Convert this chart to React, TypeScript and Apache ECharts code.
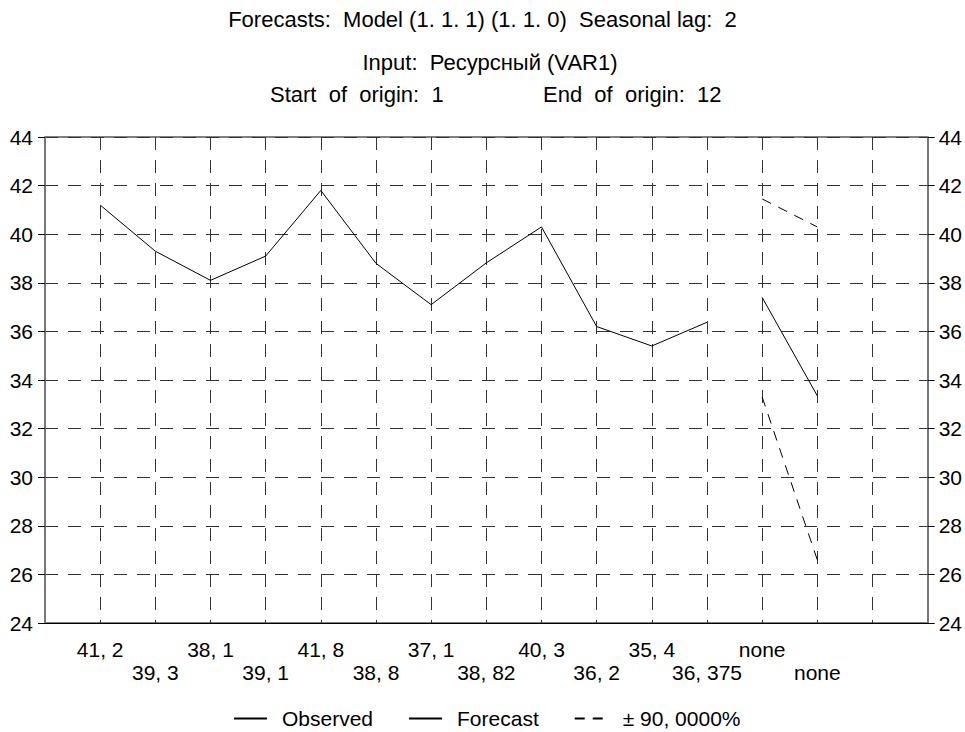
import React, { useEffect, useRef } from "react";
import * as echarts from "echarts";

// Observed values (steps 1..12)
const observed = [41.2, 39.3, 38.1, 39.1, 41.8, 38.8, 37.1, 38.82, 40.3, 36.2, 35.4, 36.375];
// Forecast (steps 13..14)
const forecastStart = 13;
const forecast = [37.4, 33.35];
const upperBound = [41.45, 40.3];
const lowerBound = [33.3, 26.6];
// X tick labels at steps 1..14
const tickLabels = [
  "41, 2", "39, 3", "38, 1", "39, 1", "41, 8", "38, 8", "37, 1",
  "38, 82", "40, 3", "36, 2", "35, 4", "36, 375", "none", "none",
];
const yMin = 24;
const yMax = 44;
const yStep = 2;
const xMin = 0;
const xMax = 16;

const titleLine1 = "Forecasts:  Model (1. 1. 1) (1. 1. 0)  Seasonal lag:  2";
const titleLine2 = "Input:  Ресурсный (VAR1)";
const titleLine3a = "Start  of  origin:  1";
const titleLine3b = "End  of  origin:  12";
const legendNames = ["Observed", "Forecast", "± 90, 0000%"];

const FONT = "'Liberation Sans', Arial, sans-serif";

export default function App() {
  const ref = useRef<HTMLDivElement>(null);
  useEffect(() => {
    if (!ref.current) return;
    const chart = echarts.init(ref.current, undefined, { renderer: "svg" });
    const obsData = observed.map((v, i) => [i + 1, v]);
    const fcData = forecast.map((v, i) => [forecastStart + i, v]);
    const upData = upperBound.map((v, i) => [forecastStart + i, v]);
    const loData = lowerBound.map((v, i) => [forecastStart + i, v]);
    const dash = [13, 10];
    const gridColor = "#333";
    chart.setOption({
      animation: false,
      backgroundColor: "#fff",
      textStyle: { fontFamily: FONT },
      grid: {
        left: 45,
        right: 37,
        top: 137,
        bottom: 109,
        show: true,
        borderColor: "#000",
        borderWidth: 1,
        backgroundColor: "transparent",
      },
      graphic: [
        { type: "text", left: "center", top: 8, style: { text: titleLine1, font: `22px ${FONT}`, fill: "#000" } },
        { type: "text", x: 490, y: 51, style: { text: titleLine2, font: `22px ${FONT}`, fill: "#000", textAlign: "center" } },
        { type: "text", x: 270, y: 83, style: { text: titleLine3a, font: `22px ${FONT}`, fill: "#000", textAlign: "left" } },
        { type: "text", x: 543, y: 83, style: { text: titleLine3b, font: `22px ${FONT}`, fill: "#000", textAlign: "left" } },
      ],
      legend: {
        data: legendNames,
        left: 228,
        top: 703,
        itemWidth: 33,
        itemHeight: 14,
        itemGap: 35,
        itemStyle: { color: "rgba(0,0,0,0)", borderColor: "rgba(0,0,0,0)", borderWidth: 0, opacity: 0 },
        textStyle: { fontFamily: FONT, fontSize: 21, color: "#000", padding: [0, 0, 0, 10] },
      },
      xAxis: {
        type: "value",
        min: xMin,
        max: xMax,
        interval: 1,
        axisLine: { show: true, lineStyle: { color: "#000", width: 1 } },
        axisTick: { show: false },
        splitLine: { show: true, lineStyle: { color: gridColor, type: dash, width: 1 } },
        axisLabel: {
          show: true,
          interval: 0,
          hideOverlap: false,
          margin: 15,
          color: "#000",
          fontFamily: FONT,
          fontSize: 21,
          lineHeight: 23,
          formatter: (v: number) => {
            const i = Math.round(v) - 1;
            if (i < 0 || i >= tickLabels.length) return "";
            return i % 2 === 0 ? tickLabels[i] : "\n" + tickLabels[i];
          },
        },
      },
      yAxis: [
        {
          type: "value",
          position: "left",
          min: yMin,
          max: yMax,
          interval: yStep,
          axisLine: { show: true, lineStyle: { color: "#777", width: 2 } },
          axisTick: { show: true, length: 7, lineStyle: { color: "#000" } },
          splitLine: { show: true, lineStyle: { color: gridColor, type: dash, width: 1 } },
          axisLabel: { color: "#000", fontFamily: FONT, fontSize: 21, margin: 12 },
        },
        {
          type: "value",
          position: "right",
          min: yMin,
          max: yMax,
          interval: yStep,
          axisLine: { show: true, lineStyle: { color: "#777", width: 2 } },
          axisTick: { show: true, length: 7, lineStyle: { color: "#000" } },
          splitLine: { show: false },
          axisLabel: { color: "#000", fontFamily: FONT, fontSize: 21, margin: 11 },
        },
      ],
      series: [
        {
          name: legendNames[0],
          type: "line",
          data: obsData,
          symbol: "none",
          lineStyle: { color: "#000", width: 1 },
          itemStyle: { color: "#000" },
        },
        {
          name: legendNames[1],
          type: "line",
          data: fcData,
          symbol: "none",
          lineStyle: { color: "#000", width: 1 },
          itemStyle: { color: "#000" },
        },
        {
          name: legendNames[2],
          type: "line",
          data: upData,
          symbol: "none",
          lineStyle: { color: "#000", width: 1, type: [10, 8] },
          itemStyle: { color: "#000" },
        },
        {
          name: legendNames[2],
          type: "line",
          data: loData,
          symbol: "none",
          lineStyle: { color: "#000", width: 1, type: [10, 8] },
          itemStyle: { color: "#000" },
        },
      ],
    });
    return () => chart.dispose();
  }, []);
  return <div ref={ref} style={{ width: 965, height: 732, position: "absolute", left: 0, top: 0 }} />;
}
